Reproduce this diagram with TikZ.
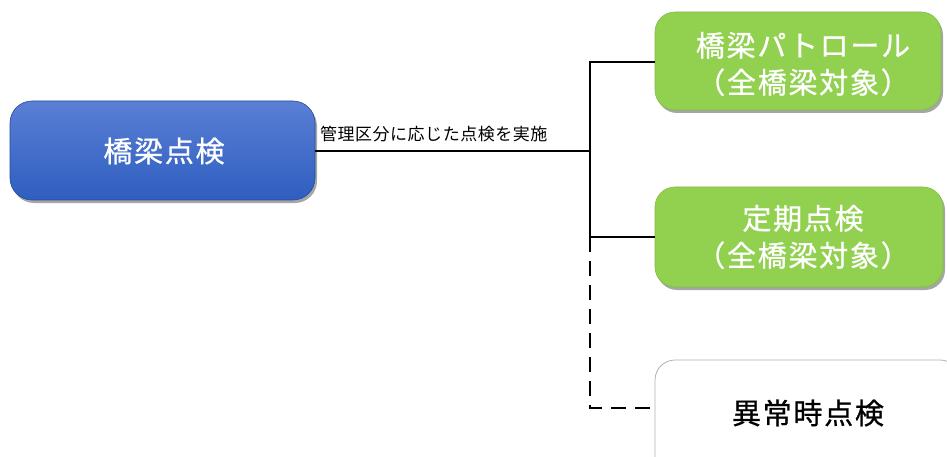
\documentclass[tikz,border=0pt]{standalone}
\usepackage{fontspec}
\setmainfont{Noto Sans CJK JP}
\newfontfamily\boxfont[LetterSpace=6,FakeBold=0.8]{Noto Sans CJK JP}
\newfontfamily\lblfont[LetterSpace=3]{Noto Sans CJK JP}
\usetikzlibrary{shadows}
\definecolor{bluetop}{HTML}{5A7FD5}
\definecolor{bluebot}{HTML}{2E5EC0}
\definecolor{greenbox}{HTML}{92D050}
\tikzset{
  boxshadow/.style={drop shadow={shadow xshift=2pt,shadow yshift=-3pt,fill=black,opacity=0.35}},
  bluebox/.style={rounded corners=22pt, top color=bluetop, bottom color=bluebot, draw=bluebot!80!black, line width=0.6pt, boxshadow},
  greenbx/.style={rounded corners=20pt, fill=greenbox, draw=greenbox!90!black, line width=0.6pt, boxshadow},
  whitebx/.style={rounded corners=20pt, fill=white, draw=gray!60, line width=0.8pt, boxshadow},
  boxtext/.style={font=\boxfont\fontsize{29}{37}\selectfont, align=center},
  conn/.style={line width=2.2pt, black},
  dconn/.style={line width=2.2pt, black, dash pattern=on 15pt off 9pt},
}
\begin{document}
\begin{tikzpicture}[x=1pt,y=-1pt]
\useasboundingbox (0,0) rectangle (947,457);
\clip (0,0) rectangle (947,457);
% boxes
\path[bluebox] (10,101) rectangle (315,200);
\node[boxtext, text=white] (root) at (164,151) {橋梁点検};
\path[greenbx] (655,12) rectangle (941,110);
\node[boxtext, text=white] (patrol) at (803,64) {橋梁パトロール\\（全橋梁対象）};
\path[greenbx] (655,187) rectangle (943,287);
\node[boxtext, text=white] (teiki) at (803,237) {定期点検\\（全橋梁対象）};
\path[whitebx] (655,360) rectangle (960,480);
\node[boxtext, text=black] (ijou) at (808,413) {異常時点検};
% connector points
\coordinate (rootR) at (315,151);
\coordinate (j0) at (590,151);
\coordinate (j1) at (590,62);
\coordinate (j2) at (590,237);
\coordinate (j3) at (590,408);
\coordinate (b1) at (655,62);
\coordinate (b2) at (655,237);
\coordinate (b3) at (655,408);
\draw[conn] (rootR) -- (j0);
\node[anchor=south west, font=\lblfont\fontsize{17}{19}\selectfont, inner sep=0pt] (lbl) at (320,142) {管理区分に応じた点検を実施};
\draw[conn] (b1) -- (j1) -- (j2) -- (b2);
\draw[dconn] (j2) -- (j3) -- (b3);
\end{tikzpicture}
\end{document}
